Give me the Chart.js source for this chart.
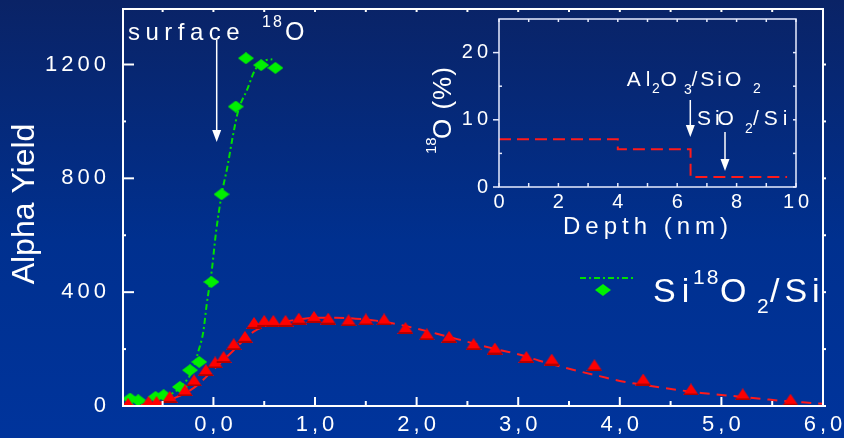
<!DOCTYPE html>
<html>
<head>
<meta charset="utf-8">
<title>Alpha Yield</title>
<script src="https://cdn.jsdelivr.net/npm/chart.js@4.4.0/dist/chart.umd.min.js"></script>
<style>
  html, body { margin: 0; padding: 0; }
  #wrap {
    position: relative;
    width: 844px;
    height: 438px;
    overflow: hidden;
    background: linear-gradient(to bottom, #0a2366 0%, #00308f 55%, #00349c 100%);
  }
  #main { position: absolute; left: 0; top: 0; }
  #inset { position: absolute; left: 420px; top: 0; }
</style>
</head>
<body>
<div id="wrap">
  <canvas id="main" width="844" height="438"></canvas>
  <canvas id="inset" width="390" height="245"></canvas>
</div>
<script>
const FONT = '"Liberation Sans", Arial, Helvetica, sans-serif';

// Al2O3/SiO2/Si sample: measured alpha yield (red triangles)
const redX = [-0.84, -0.64, -0.56, -0.43, -0.28, -0.19, -0.075, 0.017, 0.1, 0.2, 0.31, 0.40, 0.50, 0.59, 0.71,
  0.84, 0.99, 1.13, 1.33, 1.50, 1.68, 1.89, 2.10, 2.32, 2.56, 2.77, 3.08, 3.33, 3.75, 4.23, 4.70, 5.21, 5.68];
const redY = [8, 14, 14, 32, 55, 90, 126, 153, 172, 217, 243, 292, 299, 299, 299,
  307, 313, 307, 301, 304, 304, 274, 252, 243, 217, 202, 172, 163, 143, 93, 58, 41, 22];

// Si18O2/Si reference: measured alpha yield (green diamonds)
const greenX = [-0.82, -0.74, -0.57, -0.49, -0.33, -0.23, -0.14, -0.02, 0.08, 0.22, 0.32, 0.47, 0.61];
const greenY = [26, 20, 32, 38, 67, 126, 155, 436, 744, 1052, 1222, 1198, 1188];

// simulated curves
const redFitX = [-0.88, -0.7, -0.5, -0.35, -0.2, -0.1, 0.0, 0.1, 0.2, 0.3, 0.4, 0.5, 0.6, 0.8, 1.0, 1.2, 1.4, 1.6,
  1.8, 2.0, 2.2, 2.4, 2.6, 2.8, 3.0, 3.2, 3.4, 3.6, 3.8, 4.0, 4.2, 4.4, 4.6, 4.8, 5.0, 5.2, 5.4, 5.6, 5.8, 6.0];
const redFitY = [0, 4, 14, 33, 62, 92, 128, 162, 196, 232, 262, 279, 290, 302, 310, 310, 307, 300,
  288, 272, 254, 235, 216, 198, 182, 160, 140, 122, 105, 88, 76, 65, 55, 46, 39, 32, 25, 18, 13, 8];
const greenFitX = [-0.85, -0.7, -0.55, -0.4, -0.3, -0.2, -0.15, -0.1, -0.065, -0.016, 0.024, 0.083, 0.138,
  0.19, 0.246, 0.33, 0.41, 0.52, 0.58];
const greenFitY = [5, 12, 25, 45, 75, 130, 190, 260, 360, 477, 606, 747, 841, 946, 1040, 1110, 1181, 1216, 1218];

// main axes ticks
const xTicks = [0, 1, 2, 3, 4, 5, 6];
const xMinor = [-0.5, 0.5, 1.5, 2.5, 3.5, 4.5, 5.5];
const yTicks = [0, 400, 800, 1200];
const yMinor = [200, 600, 1000];

// inset: 18O profile vs depth
const depthX = [0, 4, 6.45, 9.7];
const o18Pct = [7.1, 5.6, 1.5, 1.5];
const insetXTicks = [0, 2, 4, 6, 8, 10];
const insetXMinor = [1, 3, 5, 7, 9];
const insetYTicks = [0, 10, 20];
const insetYMinor = [5, 15];

function pts(xs, ys) {
  return xs.map((x, i) => ({ x: x, y: ys[i] }));
}

function triangleImg(w, h) {
  const c = document.createElement('canvas');
  c.width = w; c.height = h;
  const g = c.getContext('2d');
  g.fillStyle = '#ff0000';
  g.beginPath();
  g.moveTo(w / 2, 0);
  g.lineTo(w, h);
  g.lineTo(0, h);
  g.closePath();
  g.fill();
  g.fillStyle = '#b20000';
  g.fillRect(1, h - 2, w - 2, 2);
  return c;
}

function diamondImg(w, h) {
  const c = document.createElement('canvas');
  c.width = w; c.height = h;
  const g = c.getContext('2d');
  g.fillStyle = '#00f000';
  g.beginPath();
  g.moveTo(w / 2, 0);
  g.lineTo(w, h / 2);
  g.lineTo(w / 2, h);
  g.lineTo(0, h / 2);
  g.closePath();
  g.fill();
  return c;
}

const triMark = triangleImg(16, 12);
const diaMark = diamondImg(16, 12);

function fixedTicks(values) {
  return scale => { scale.ticks = values.map(v => ({ value: v })); };
}

// pin the plot box: no extra room for half labels
function pinSize(prop, size) {
  return scale => {
    scale[prop] = size;
    scale.paddingTop = 0;
    scale.paddingBottom = 0;
    scale.paddingLeft = 0;
    scale.paddingRight = 0;
  };
}

function decimalComma(v) {
  return v.toFixed(1).replace('.', ',');
}

function tickMarks(ctx, scale, values, len, side, a) {
  values.forEach(v => {
    const p = scale.getPixelForValue(v);
    ctx.beginPath();
    if (side === 'bottom') { ctx.moveTo(p, a.bottom); ctx.lineTo(p, a.bottom - len); }
    if (side === 'top') { ctx.moveTo(p, a.top); ctx.lineTo(p, a.top + len); }
    if (side === 'left') { ctx.moveTo(a.left, p); ctx.lineTo(a.left + len, p); }
    if (side === 'right') { ctx.moveTo(a.right, p); ctx.lineTo(a.right - len, p); }
    ctx.stroke();
  });
}

function arrowDown(ctx, x, y1, y2) {
  ctx.beginPath();
  ctx.moveTo(x, y1);
  ctx.lineTo(x, y2 - 10);
  ctx.stroke();
  ctx.beginPath();
  ctx.moveTo(x - 4.5, y2 - 12);
  ctx.lineTo(x + 4.5, y2 - 12);
  ctx.lineTo(x, y2);
  ctx.closePath();
  ctx.fill();
}

// text pieces with their own size, spacing and position
function runs(ctx, list) {
  list.forEach(r => {
    ctx.font = r.size + 'px ' + FONT;
    ctx.letterSpacing = (r.sp || 0) + 'px';
    ctx.fillText(r.t, r.x, r.y);
  });
}

const mainDecor = {
  id: 'mainDecor',
  beforeDraw(chart) {
    chart.ctx.letterSpacing = '4px';
  },
  afterDraw(chart) {
    const ctx = chart.ctx;
    const a = chart.chartArea;
    const xs = chart.scales.x, ys = chart.scales.y;
    ctx.save();
    ctx.letterSpacing = '0px';
    ctx.strokeStyle = '#ffffff';
    ctx.fillStyle = '#ffffff';
    ctx.lineWidth = 2;
    ctx.strokeRect(a.left, a.top, a.right - a.left, a.bottom - a.top);

    tickMarks(ctx, xs, xTicks, 9, 'bottom', a);
    tickMarks(ctx, xs, xMinor, 5, 'bottom', a);
    tickMarks(ctx, xs, xTicks.concat(xMinor), 3, 'top', a);
    tickMarks(ctx, ys, yTicks, 11, 'left', a);
    tickMarks(ctx, ys, yMinor, 3, 'left', a);
    tickMarks(ctx, ys, yTicks.concat(yMinor), -3, 'right', a);

    // y axis title
    ctx.save();
    ctx.translate(25, 204);
    ctx.rotate(-Math.PI / 2);
    ctx.font = '32px ' + FONT;
    ctx.textAlign = 'center';
    ctx.textBaseline = 'middle';
    ctx.fillText('Alpha Yield', 0, 0);
    ctx.restore();

    // surface marker
    ctx.textAlign = 'left';
    ctx.textBaseline = 'alphabetic';
    runs(ctx, [
      { t: 'surface', x: 128, y: 40, size: 24, sp: 5.5 },
      { t: '18', x: 262, y: 27, size: 16, sp: 2 },
      { t: 'O', x: 285, y: 40, size: 25 }
    ]);
    ctx.lineWidth = 1.5;
    arrowDown(ctx, 216.7, 40, 142);

    // legend
    ctx.save();
    ctx.strokeStyle = '#00e000';
    ctx.lineWidth = 2;
    ctx.setLineDash([6, 3, 2, 3]);
    ctx.beginPath();
    ctx.moveTo(580, 278);
    ctx.lineTo(634, 278);
    ctx.stroke();
    ctx.restore();
    ctx.drawImage(diaMark, 603 - diaMark.width / 2, 290 - diaMark.height / 2);
    runs(ctx, [
      { t: 'Si', x: 653, y: 302, size: 34, sp: 6 },
      { t: '18', x: 693, y: 284, size: 21, sp: 2 },
      { t: 'O', x: 720, y: 302, size: 34 },
      { t: '2', x: 757, y: 313, size: 21 },
      { t: '/Si', x: 770, y: 302, size: 34, sp: 5 }
    ]);
    ctx.restore();
  }
};

new Chart(document.getElementById('main'), {
  type: 'scatter',
  data: {
    datasets: [
      {
        label: 'Al2O3/SiO2/Si',
        data: pts(redX, redY),
        pointStyle: triMark,
        pointRadius: 7,
        showLine: false
      },
      {
        label: 'Si18O2/Si',
        data: pts(greenX, greenY),
        pointStyle: diaMark,
        pointRadius: 7,
        showLine: false
      },
      {
        label: 'fit red',
        data: pts(redFitX, redFitY),
        showLine: true,
        pointRadius: 0,
        borderColor: '#ff1a1a',
        borderWidth: 2,
        borderDash: [10, 7],
        cubicInterpolationMode: 'monotone'
      },
      {
        label: 'fit green',
        data: pts(greenFitX, greenFitY),
        showLine: true,
        pointRadius: 0,
        borderColor: '#00e000',
        borderWidth: 2,
        borderDash: [6, 3, 2, 3],
        cubicInterpolationMode: 'monotone'
      }
    ]
  },
  options: {
    responsive: false,
    animation: false,
    events: [],
    layout: { padding: { left: 0, top: 9, right: 21, bottom: 0 } },
    plugins: { legend: { display: false }, tooltip: { enabled: false } },
    scales: {
      x: {
        type: 'linear',
        min: -0.89,
        max: 6.0,
        afterBuildTicks: fixedTicks(xTicks),
        afterFit: pinSize('height', 32),
        grid: { display: false, drawTicks: false },
        border: { display: false },
        ticks: {
          color: '#ffffff',
          font: { family: FONT, size: 22 },
          padding: 6,
          labelOffset: 2,
          maxRotation: 0,
          autoSkip: false,
          callback: v => decimalComma(v)
        }
      },
      y: {
        type: 'linear',
        min: 0,
        max: 1395,
        afterBuildTicks: fixedTicks(yTicks),
        afterFit: pinSize('width', 123),
        grid: { display: false, drawTicks: false },
        border: { display: false },
        ticks: {
          color: '#ffffff',
          font: { family: FONT, size: 22 },
          padding: 13,
          autoSkip: false,
          callback: v => String(v)
        }
      }
    }
  },
  plugins: [mainDecor]
});

const insetDecor = {
  id: 'insetDecor',
  beforeDraw(chart) {
    chart.ctx.letterSpacing = '4px';
  },
  afterDraw(chart) {
    const ctx = chart.ctx;
    const a = chart.chartArea;
    const xs = chart.scales.x, ys = chart.scales.y;
    ctx.save();
    ctx.letterSpacing = '0px';
    ctx.strokeStyle = '#e8ecff';
    ctx.fillStyle = '#ffffff';
    ctx.lineWidth = 1.5;
    ctx.strokeRect(a.left, a.top, a.right - a.left, a.bottom - a.top);

    tickMarks(ctx, xs, insetXTicks.concat(insetXMinor), 4, 'bottom', a);
    tickMarks(ctx, xs, insetXTicks.concat(insetXMinor), 3, 'top', a);
    tickMarks(ctx, ys, insetYTicks, -6, 'left', a);
    tickMarks(ctx, ys, insetYMinor, 3, 'left', a);
    tickMarks(ctx, ys, insetYTicks.concat(insetYMinor), 3, 'right', a);

    // axis titles
    ctx.textAlign = 'center';
    ctx.textBaseline = 'middle';
    ctx.font = '24px ' + FONT;
    ctx.letterSpacing = '5px';
    ctx.fillText('Depth (nm)', 228, 227);

    ctx.save();
    ctx.translate(22, 110);
    ctx.rotate(-Math.PI / 2);
    ctx.textAlign = 'left';
    ctx.textBaseline = 'alphabetic';
    runs(ctx, [
      { t: '18', x: -44, y: -6, size: 15 },
      { t: 'O (%)', x: -29, y: 9, size: 26, sp: 1 }
    ]);
    ctx.restore();

    // interface labels (positions in main-plot pixels shifted by the inset offset)
    ctx.textAlign = 'left';
    ctx.textBaseline = 'alphabetic';
    const ox = -420;
    runs(ctx, [
      { t: 'Al', x: 626.7 + ox, y: 86, size: 21, sp: 5 },
      { t: '2', x: 652 + ox, y: 93, size: 14 },
      { t: 'O', x: 660.5 + ox, y: 86, size: 21 },
      { t: '3', x: 684 + ox, y: 94, size: 14 },
      { t: '/SiO', x: 691.5 + ox, y: 86, size: 21, sp: 3 },
      { t: '2', x: 753 + ox, y: 93, size: 14 },
      { t: 'Si', x: 697 + ox, y: 125, size: 21, sp: 4 },
      { t: 'O', x: 717.5 + ox, y: 125, size: 21 },
      { t: '2', x: 745 + ox, y: 133, size: 14 },
      { t: '/Si', x: 753 + ox, y: 125, size: 21, sp: 5 }
    ]);
    ctx.strokeStyle = '#ffffff';
    ctx.lineWidth = 1.5;
    arrowDown(ctx, 690.3 + ox, 100, 137);
    arrowDown(ctx, 725 + ox, 132, 171);
    ctx.restore();
  }
};

new Chart(document.getElementById('inset'), {
  type: 'scatter',
  data: {
    datasets: [{
      label: '18O',
      data: pts(depthX, o18Pct),
      showLine: true,
      stepped: 'before',
      pointRadius: 0,
      borderColor: '#ff1a1a',
      borderWidth: 2,
      borderDash: [12, 6]
    }]
  },
  options: {
    responsive: false,
    animation: false,
    events: [],
    layout: { padding: { left: 0, top: 19, right: 14, bottom: 0 } },
    plugins: { legend: { display: false }, tooltip: { enabled: false } },
    scales: {
      x: {
        type: 'linear',
        min: 0,
        max: 10,
        afterBuildTicks: fixedTicks(insetXTicks),
        afterFit: pinSize('height', 58),
        grid: { display: false, drawTicks: false },
        border: { display: false },
        ticks: {
          color: '#ffffff',
          font: { family: FONT, size: 20 },
          padding: 3,
          labelOffset: 2,
          maxRotation: 0,
          autoSkip: false
        }
      },
      y: {
        type: 'linear',
        min: 0,
        max: 25,
        afterBuildTicks: fixedTicks(insetYTicks),
        afterFit: pinSize('width', 79),
        grid: { display: false, drawTicks: false },
        border: { display: false },
        ticks: {
          color: '#ffffff',
          font: { family: FONT, size: 20 },
          padding: 7,
          autoSkip: false
        }
      }
    }
  },
  plugins: [insetDecor]
});
</script>
</body>
</html>
